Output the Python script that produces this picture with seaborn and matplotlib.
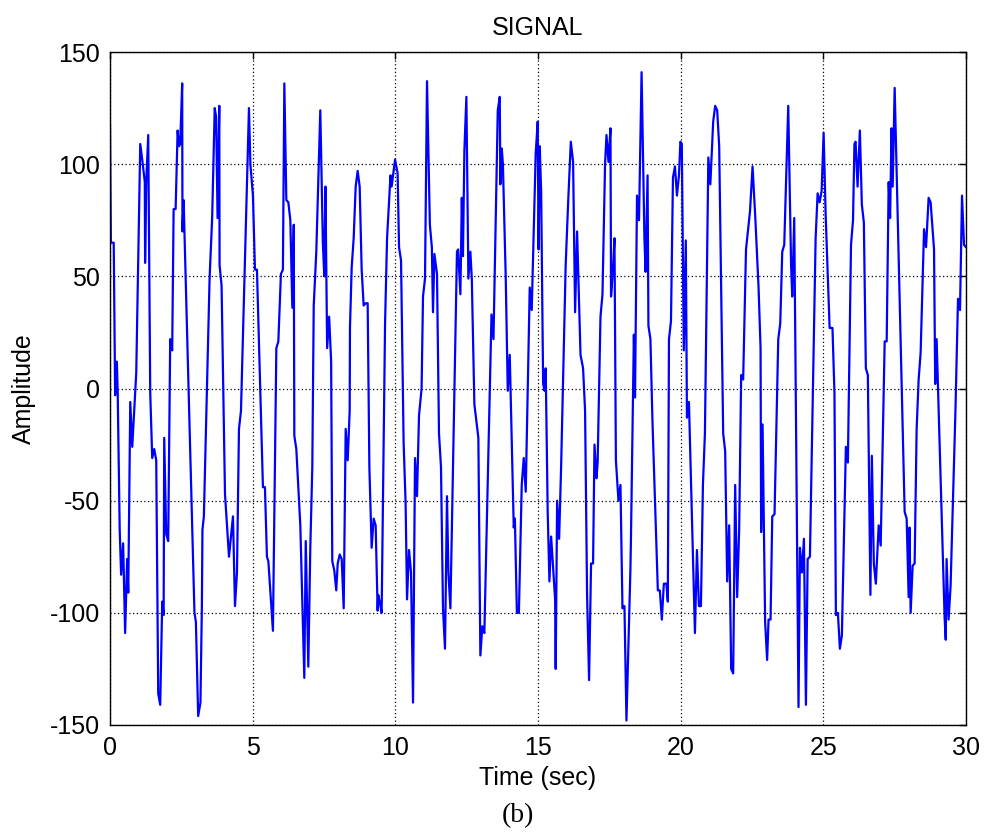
import numpy as np
import pandas as pd
import matplotlib
matplotlib.use("Agg")
import matplotlib.pyplot as plt
import seaborn as sns

# Time (sec) of traced vertices
time_s = [0, 0.03, 0.13, 0.18, 0.24, 0.27, 0.34, 0.39, 0.46, 0.53, 0.60, 0.64, 0.71, 0.78, 0.88, 0.92,
          1.06, 1.13, 1.22, 1.23, 1.27, 1.34, 1.41, 1.48, 1.55, 1.62, 1.69, 1.76, 1.83, 1.88, 1.90, 1.97,
          2.04, 2.11, 2.18, 2.23, 2.30, 2.37, 2.42, 2.46, 2.53, 2.54, 2.58, 2.96, 3.01, 3.09, 3.17, 3.22,
          3.24, 3.29, 3.49, 3.58, 3.67, 3.72, 3.77, 3.83, 3.84, 3.91, 4.03, 4.17, 4.31, 4.38, 4.45, 4.52,
          4.59, 4.87, 4.92, 5.01, 5.08, 5.15, 5.36, 5.43, 5.50, 5.55, 5.71, 5.83, 5.90, 5.99, 6.06, 6.11,
          6.18, 6.25, 6.32, 6.39, 6.44, 6.46, 6.53, 6.67, 6.81, 6.86, 6.95, 7.02, 7.09, 7.14, 7.23, 7.37,
          7.46, 7.51, 7.55, 7.61, 7.68, 7.75, 7.79, 7.86, 7.93, 7.98, 8.05, 8.12, 8.19, 8.26, 8.33, 8.40,
          8.41, 8.47, 8.54, 8.61, 8.68, 8.75, 8.82, 8.89, 8.96, 9.03, 9.08, 9.09, 9.17, 9.24, 9.31, 9.38,
          9.40, 9.45, 9.52, 9.64, 9.71, 9.83, 9.87, 9.92, 9.99, 10.08, 10.13, 10.20, 10.29, 10.36, 10.41,
          10.48, 10.55, 10.62, 10.69, 10.76, 10.83, 10.92, 10.97, 11.04, 11.11, 11.21, 11.28, 11.32, 11.37,
          11.46, 11.53, 11.60, 11.67, 11.74, 11.81, 11.86, 11.93, 12.16, 12.20, 12.28, 12.33, 12.37, 12.42,
          12.49, 12.56, 12.63, 12.68, 12.77, 12.87, 12.91, 12.98, 13.05, 13.12, 13.37, 13.44, 13.59, 13.66,
          13.68, 13.73, 13.77, 13.87, 13.94, 14.01, 14.15, 14.19, 14.26, 14.33, 14.43, 14.50, 14.57, 14.71,
          14.78, 14.92, 14.99, 15.02, 15.06, 15.11, 15.18, 15.23, 15.27, 15.34, 15.40, 15.46, 15.60, 15.62,
          15.67, 15.74, 15.81, 15.97, 16.06, 16.15, 16.23, 16.30, 16.37, 16.49, 16.58, 16.65, 16.72, 16.79,
          16.86, 16.93, 16.98, 17.05, 17.09, 17.19, 17.26, 17.35, 17.40, 17.47, 17.54, 17.56, 17.63, 17.68,
          17.73, 17.82, 17.89, 17.96, 18.03, 18.10, 18.24, 18.26, 18.36, 18.40, 18.47, 18.54, 18.63, 18.73,
          18.77, 18.84, 18.87, 18.94, 19.01, 19.20, 19.27, 19.34, 19.41, 19.50, 19.55, 19.59, 19.66, 19.73,
          19.80, 19.87, 19.94, 19.99, 20.04, 20.11, 20.18, 20.22, 20.29, 20.50, 20.57, 20.64, 20.71, 20.78,
          20.85, 20.97, 21.04, 21.14, 21.21, 21.28, 21.35, 21.49, 21.56, 21.63, 21.70, 21.77, 21.84, 21.91,
          21.98, 22.05, 22.12, 22.19, 22.29, 22.43, 22.52, 22.62, 22.73, 22.80, 22.82, 22.87, 22.96, 23.03,
          23.08, 23.15, 23.21, 23.29, 23.42, 23.49, 23.56, 23.63, 23.77, 23.87, 23.91, 23.98, 24.13, 24.18,
          24.25, 24.32, 24.39, 24.45, 24.53, 24.73, 24.80, 24.87, 24.94, 25.01, 25.08, 25.22, 25.32, 25.39,
          25.44, 25.51, 25.58, 25.65, 25.79, 25.86, 25.97, 26.04, 26.09, 26.13, 26.20, 26.28, 26.35, 26.42,
          26.49, 26.56, 26.65, 26.70, 26.77, 26.84, 26.94, 27.01, 27.15, 27.22, 27.29, 27.34, 27.39, 27.43,
          27.50, 27.85, 27.92, 27.99, 28.02, 28.06, 28.13, 28.20, 28.27, 28.34, 28.41, 28.53, 28.60, 28.69,
          28.76, 28.88, 28.92, 28.97, 29.25, 29.29, 29.32, 29.39, 29.46, 29.63, 29.72, 29.79, 29.86, 29.93,
          30.0]

amplitude = [118, 65, 65, -3, 12, -2, -63, -83, -69, -109, -76, -91, -6, -26, -2, 7,
             109, 102, 92, 56, 92, 113, -2, -31, -27, -32, -136, -141, -95, -101, -22, -65,
             -68, 22, 17, 80, 80, 115, 108, 109, 136, 70, 84, -100, -104, -146, -140, -97,
             -63, -57, 49, 76, 125, 121, 76, 126, 55, 46, -47, -75, -57, -97, -82, -18,
             -10, 125, 100, 86, 53, 53, -44, -44, -75, -77, -108, 18, 21, 51, 53, 136,
             84, 83, 75, 36, 73, -21, -27, -61, -129, -68, -124, -71, -35, 37, 61, 124,
             65, 50, 90, 18, 32, 12, -77, -81, -90, -78, -74, -76, -98, -18, -32, -10,
             27, 54, 67, 90, 97, 90, 53, 37, 38, 38, -27, -35, -71, -58, -61, -99,
             -92, -95, -100, 29, 67, 95, 90, 95, 102, 96, 63, 57, -24, -51, -94,
             -72, -82, -140, -31, -48, -12, 0, 41, 49, 137, 73, 63, 34, 60,
             51, -20, -35, -98, -116, -48, -82, -98, 61, 62, 42, 85, 59, 106,
             130, 49, 61, 49, -7, -18, -22, -119, -106, -109, 33, 22, 124, 130,
             91, 107, 100, 49, -1, 15, -62, -58, -100, -100, -43, -31, -46, 45,
             35, 105, 119, 62, 108, 88, 2, -1, 9, -55, -86, -66, -94, -125,
             -50, -67, -35, 55, 84, 110, 101, 34, 70, 15, 9, -10, -92, -130,
             -78, -78, -25, -40, -33, 32, 42, 100, 113, 101, 116, 41, 54, 67,
             -32, -50, -43, -98, -97, -148, -80, -65, 24, -4, 86, 75, 141, 67,
             52, 95, 28, 22, -14, -90, -90, -103, -87, -87, -95, 22, 30, 94,
             99, 86, 95, 110, 109, 17, 66, -13, -6, -109, -72, -97, -97, -43,
             -20, 103, 91, 119, 126, 124, 108, -20, -28, -86, -61, -125, -127, -43,
             -93, -63, 6, 4, 62, 79, 99, 75, 45, 18, -64, -16, -104, -121,
             -103, -103, -57, -56, 22, 29, 61, 64, 126, 55, 41, 76, -142, -71,
             -82, -67, -141, -76, -75, 67, 87, 83, 88, 114, 78, 27, 27, -2,
             -101, -100, -116, -110, -26, -33, 64, 75, 109, 110, 90, 115, 82, 74,
             9, 6, -92, -30, -78, -87, -61, -70, 21, 21, 92, 76, 116, 90,
             134, -55, -58, -93, -62, -100, -79, -78, -18, 4, 16, 71, 63, 85,
             83, 62, 2, 22, -102, -112, -76, -103, -88, -10, 40, 35, 86, 64,
             63]

x_ticks = [0, 5, 10, 15, 20, 25, 30]
y_ticks = [-150, -100, -50, 0, 50, 100, 150]

df = pd.DataFrame({"Time (sec)": time_s, "Amplitude": amplitude})

sns.set_style("white")
plt.rcParams["font.family"] = ["Liberation Sans", "DejaVu Sans"]
plt.rcParams["text.color"] = "black"
plt.rcParams["axes.labelcolor"] = "black"

FS = 18

fig = plt.figure(figsize=(9.86, 8.36), dpi=100)
ax = fig.add_axes([110 / 986, 1 - 725 / 836, 856 / 986, 673 / 836])

sns.lineplot(data=df, x="Time (sec)", y="Amplitude", ax=ax, color=(0, 0, 1),
             linewidth=1.6, sort=False, estimator=None)

ax.set_xlim(0, 30)
ax.set_ylim(-150, 150)
ax.set_xticks(x_ticks)
ax.set_yticks(y_ticks)
ax.set_xticklabels([str(v) for v in x_ticks], fontsize=FS, color="black")
ax.set_yticklabels([str(v) for v in y_ticks], fontsize=FS, color="black")
ax.grid(True, color="black", linestyle=(0, (1, 2)), linewidth=0.9)
ax.tick_params(direction="in", top=True, right=True, length=5, width=1,
               colors="black")
ax.tick_params(axis="x", pad=8)
ax.tick_params(axis="y", pad=7)
for sp in ax.spines.values():
    sp.set_visible(True)
    sp.set_color("black")
    sp.set_linewidth(1.0)

ax.set_xlabel("Time (sec)", fontsize=FS, labelpad=4, color="black")
ax.set_ylabel("Amplitude", fontsize=FS, labelpad=10, color="black")
ax.set_title("SIGNAL", fontsize=FS, pad=12, color="black")

fig.text(518 / 986, 1 - 816 / 836, "(b)", ha="center", va="center",
         fontsize=20, color="black", family=["Liberation Serif", "DejaVu Serif"])

fig.savefig("out.png", dpi=100)
